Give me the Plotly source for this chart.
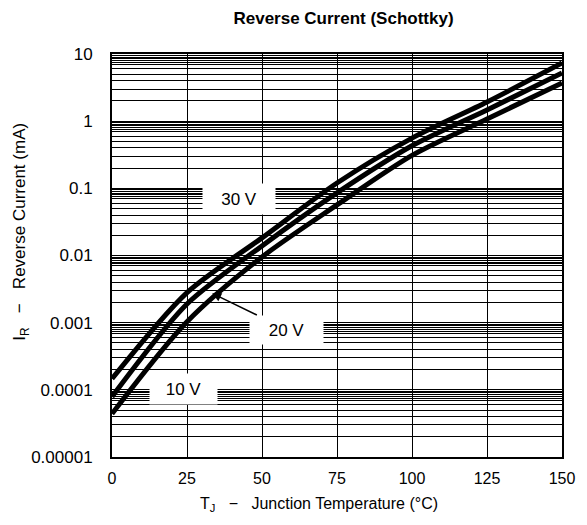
import plotly.graph_objects as go

# Data
temps = [0, 25, 50, 75, 100, 125, 150]
ir_30v = [1.46e-4, 2.8e-3, 0.0183, 0.12, 0.56, 1.93, 7.35]
ir_20v = [7.9e-5, 1.9e-3, 0.0139, 0.0855, 0.43, 1.47, 5.2]
ir_10v = [4.4e-5, 1.03e-3, 0.0095, 0.0566, 0.31, 1.08, 3.7]

x_ticks = [0, 25, 50, 75, 100, 125, 150]
y_decades = [1e-5, 1e-4, 1e-3, 1e-2, 1e-1, 1, 10]
y_labels = ["0.00001", "0.0001", "0.001", "0.01", "0.1", "1", "10"]
grid_mantissas = [2, 3, 4, 5, 6, 7, 7.5, 8, 8.5, 9, 9.5]

minor_vals = [d * m for d in y_decades[:-1] for m in grid_mantissas]

fig = go.Figure()
for vals in (ir_30v, ir_20v, ir_10v):
    fig.add_trace(go.Scatter(x=temps, y=vals, mode="lines",
                             line=dict(color="black", width=5, shape="spline", smoothing=0.8),
                             showlegend=False, hoverinfo="skip"))

FAM = "Liberation Sans, Arial, sans-serif"
NB = "\u00a0"

fig.update_layout(
    width=579, height=517,
    margin=dict(l=104, r=12, t=46, b=68),
    paper_bgcolor="white", plot_bgcolor="white",
    font=dict(family=FAM, size=17, color="black"),
    title=dict(text="<b>Reverse Current (Schottky)</b>", xref="container", yref="container",
               x=0.5795, xanchor="center", y=0.981, yanchor="middle",
               font=dict(size=17, family=FAM, color="black")),
    xaxis=dict(range=[0, 150], tickvals=x_ticks, ticktext=[str(t) for t in x_ticks],
               showgrid=True, gridcolor="black", gridwidth=1,
               showline=True, linecolor="black", linewidth=2, mirror=True,
               ticks="", zeroline=False, ticklabelstandoff=6,
               ticklabeloverflow="allow", tickfont=dict(size=16)),
    yaxis=dict(type="log", range=[-5, 1], tickvals=y_decades, ticktext=y_labels,
               showgrid=True, gridcolor="black", gridwidth=1,
               minor=dict(tickvals=minor_vals, showgrid=True, gridcolor="black",
                          gridwidth=0.8, ticks=""),
               showline=True, linecolor="black", linewidth=2, mirror=True,
               ticks="", zeroline=False, ticklabelstandoff=14),
)

# axis titles
fig.add_annotation(text="T<sub>J</sub>" + NB * 3 + "−" + NB * 3 + "Junction Temperature (°C)",
                   xref="paper", yref="paper", x=0.46, y=-0.119, showarrow=False,
                   xanchor="center", yanchor="middle", font=dict(size=16, family=FAM))
fig.add_annotation(text="I<sub>R</sub>" + NB * 3 + "−" + NB * 3 + "Reverse Current (mA)",
                   xref="paper", yref="paper", x=-0.2009, y=0.558, showarrow=False,
                   textangle=-90, xanchor="center", yanchor="middle",
                   font=dict(size=17, family=FAM))

box = dict(showarrow=False, bgcolor="white", font=dict(size=17, color="black", family=FAM),
           xref="x", yref="y", height=28)
fig.add_annotation(text="30 V", x=42.4, y=-1.159, width=70, **box)
fig.add_annotation(text="10 V", x=23.8, y=-3.987, width=65, **box)
fig.add_annotation(text="20 V", x=33.4, y=-2.563, xref="x", yref="y",
                   showarrow=True, arrowhead=2, arrowsize=1.2, arrowwidth=1.5,
                   arrowcolor="black", ax=74.5, ay=36.2, bgcolor="white",
                   width=71, height=26, font=dict(size=17, color="black", family=FAM))

fig.write_html("out.html")
